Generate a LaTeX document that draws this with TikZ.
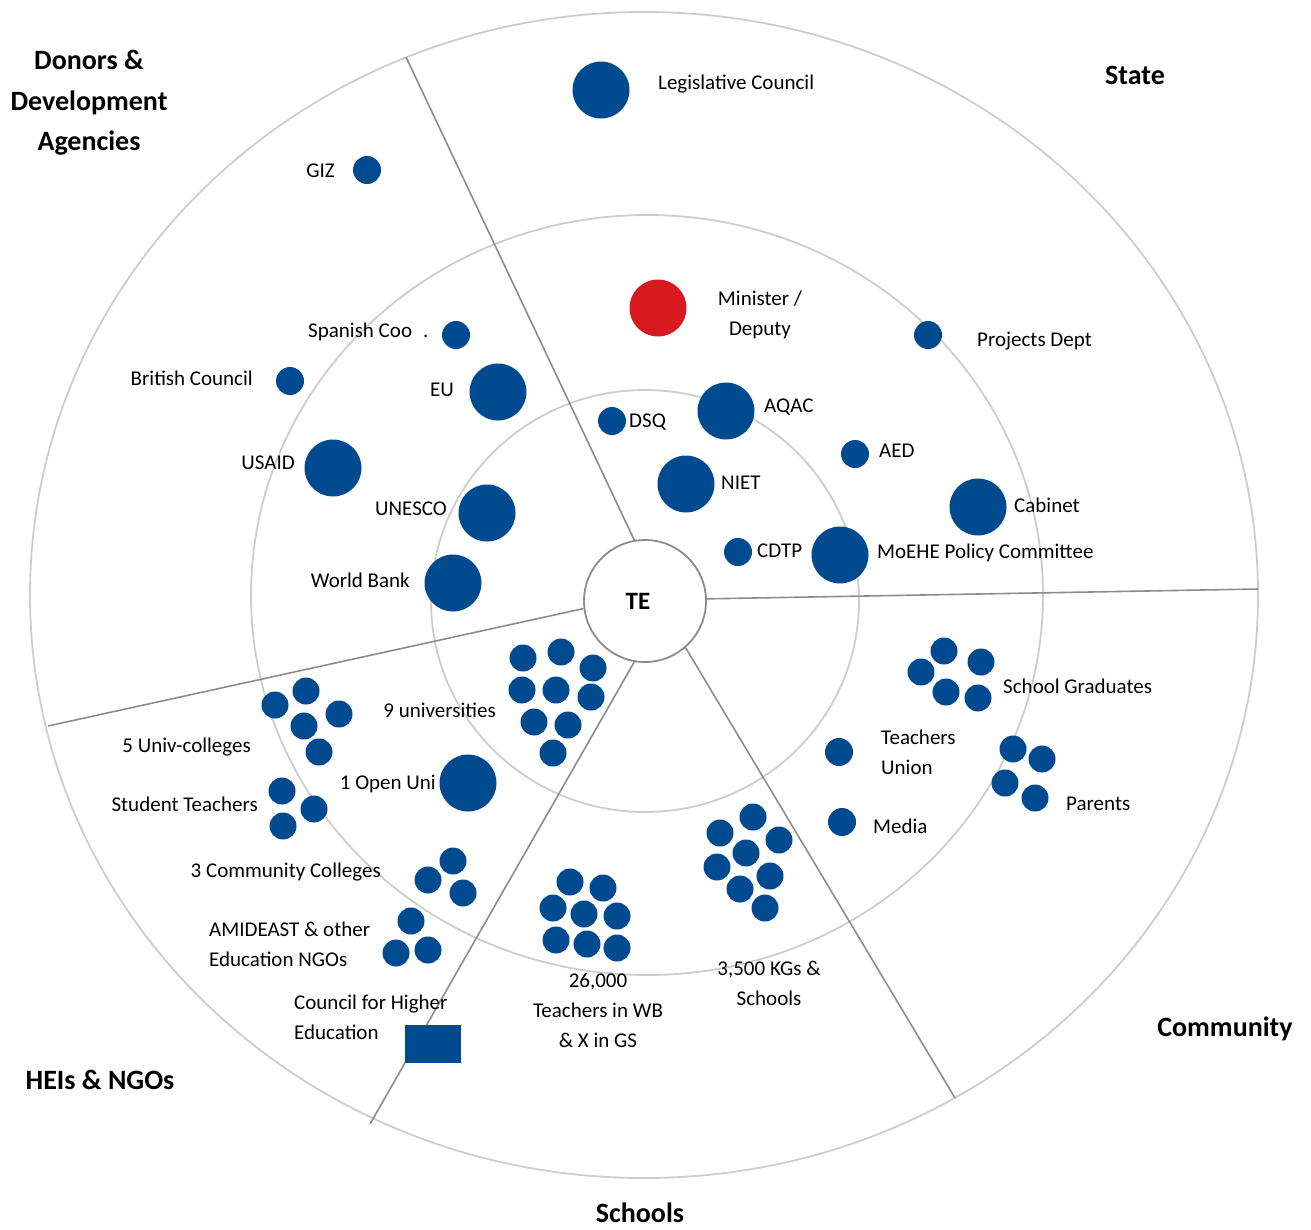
\documentclass[tikz,border=0pt]{standalone}
\usepackage{fontspec}
\setmainfont{Carlito}
\definecolor{actorblue}{RGB}{0,74,143}
\definecolor{ministerred}{RGB}{215,25,32}
\definecolor{ringgray}{RGB}{205,205,205}
\definecolor{divgray}{RGB}{140,140,140}
\tikzstyle{actor}=[circle, fill=actorblue, inner sep=0pt, minimum size=28pt]
\tikzstyle{bigactor}=[actor, minimum size=57pt]
\tikzstyle{crowd}=[actor, minimum size=27pt]
\tikzstyle{actorlabel}=[inner sep=0pt, text height=16pt, text depth=2pt, font=\fontsize{21}{30}\selectfont]
\tikzstyle{longlabel}=[inner sep=0pt, font=\fontsize{21}{30}\selectfont]
\tikzstyle{sector}=[inner sep=0pt, align=center, font=\fontsize{28}{40.5}\selectfont\bfseries]
\tikzstyle{ring}=[draw=ringgray, line width=1.8pt]
\tikzstyle{divider}=[draw=divgray, line width=1.6pt]
\newcommand{\actor}{\node[actor]}
\newcommand{\bigactor}{\node[bigactor]}

\begin{document}
\begin{tikzpicture}[x=1pt, y=-1pt]
	\useasboundingbox (0,0) rectangle (1311,1229);
	% rings of influence
	\draw[ring] (645,601) ellipse [x radius=214pt, y radius=211pt];
	\draw[ring] (647,595) ellipse [x radius=396pt, y radius=380pt];
	\draw[ring] (644,595) ellipse [x radius=614pt, y radius=583pt];
	\node[circle, draw=divgray, line width=1.8pt, fill=white, minimum size=122pt] (te) at (645,601) {};
	\node[inner sep=0pt, font=\fontsize{25}{30}\selectfont\bfseries] (te-t) at (638,601) {TE};
	% sector borders
	\coordinate (donstate) at (406,57);
	\coordinate (statecom) at (1258,589);
	\coordinate (comschool) at (955,1098);
	\coordinate (schoolhei) at (370,1124);
	\coordinate (heidon) at (48,726);
	\path
	(te.100.6) edge[divider] (donstate)
	(te.2.8) edge[divider] (statecom)
	(te.-49.7) edge[divider] (comschool)
	(te.-100) edge[divider] (schoolhei)
	(te.187.4) edge[divider] (heidon)
	;
	% sectors
	\node[sector] (donors) at (89,103) {Donors \&\\Development\\Agencies};
	\node[sector] (state) at (1135,75) {State};
	\node[sector] (community) at (1225,1029) {Community};
	\node[sector] (schools) at (640,1213) {Schools};
	\node[sector] (heis) at (100,1080) {HEIs \& NGOs};
	% donors
	\actor (giz) at (367,170) {};
	\actor (spanish) at (456,335) {};
	\actor (british) at (290,381) {};
	\bigactor (eu) at (498,392) {};
	\bigactor (usaid) at (333,468) {};
	\bigactor (unesco) at (487,513) {};
	\bigactor (worldbank) at (453,583) {};
	\node[actorlabel, anchor=east] (giz-t) at (335,170) {GIZ};
	\node[actorlabel, anchor=west] (spanish-t) at (308,330) {Spanish Coo\hspace{11pt}.};
	\node[actorlabel, anchor=east] (british-t) at (253,378) {British Council};
	\node[actorlabel, anchor=east] (eu-t) at (454,389) {EU};
	\node[actorlabel, anchor=east] (usaid-t) at (295,462) {USAID};
	\node[actorlabel, anchor=east] (unesco-t) at (447,508) {UNESCO};
	\node[actorlabel, anchor=east] (worldbank-t) at (410,580) {World Bank};
	% state
	\bigactor (legco) at (601,90) {};
	\node[bigactor, fill=ministerred] (minister) at (658,308) {};
	\actor (projects) at (928,335) {};
	\actor (dsq) at (612,421) {};
	\bigactor (aqac) at (726,411) {};
	\actor (aed) at (855,454) {};
	\bigactor (niet) at (686,484) {};
	\bigactor (cabinet) at (978,507) {};
	\actor (cdtp) at (738,552) {};
	\bigactor (moehe) at (840,555) {};
	\node[actorlabel, anchor=west] (legco-t) at (658,82) {Legislative Council};
	\node[longlabel, align=center] (minister-t) at (760,315) {Minister /\\Deputy};
	\node[actorlabel, anchor=west] (projects-t) at (977,339) {Projects Dept};
	\node[actorlabel, anchor=west] (dsq-t) at (629,420) {DSQ};
	\node[actorlabel, anchor=west] (aqac-t) at (764,405) {AQAC};
	\node[actorlabel, anchor=west] (aed-t) at (879,450) {AED};
	\node[actorlabel, anchor=west] (niet-t) at (721,482) {NIET};
	\node[actorlabel, anchor=west] (cabinet-t) at (1014,505) {Cabinet};
	\node[actorlabel, anchor=west] (cdtp-t) at (757,550) {CDTP};
	\node[actorlabel, anchor=west] (moehe-t) at (877,551) {MoEHE Policy Committee};
	% community
	\foreach \p [count=\i] in {(944,651),(921,672),(981,662),(946,692),(978,698)}
		\node[crowd] (grad\i) at \p {};
	\foreach \p [count=\i] in {(1013,749),(1042,759),(1005,783),(1035,798)}
		\node[crowd] (parent\i) at \p {};
	\actor (union) at (839,752) {};
	\actor (media) at (842,822) {};
	\node[actorlabel, anchor=west] (grad-t) at (1003,686) {School Graduates};
	\node[longlabel, anchor=west, align=left] (union-t) at (881,752) {Teachers\\Union};
	\node[actorlabel, anchor=west] (media-t) at (873,826) {Media};
	\node[actorlabel, anchor=west] (parent-t) at (1066,803) {Parents};
	% schools
	\foreach \p [count=\i] in {(570,882),(603,888),(553,908),(584,914),(617,916),(556,940),(587,944),(617,948)}
		\node[crowd] (teacher\i) at \p {};
	\foreach \p [count=\i] in {(753,817),(720,833),(779,840),(746,853),(717,867),(770,876),(740,889),(765,908)}
		\node[crowd] (school\i) at \p {};
	\node[longlabel, align=center] (teacher-t) at (598,1010) {26,000\\Teachers in WB\\\& X in GS};
	\node[longlabel, align=center] (school-t) at (769,983) {3,500 KGs \&\\Schools};
	% HEIs and NGOs
	\foreach \p [count=\i] in {(523,658),(561,652),(593,668),(522,690),(556,690),(591,697),(534,722),(568,725),(553,753)}
		\node[crowd] (uni\i) at \p {};
	\foreach \p [count=\i] in {(275,705),(306,691),(339,714),(304,726),(319,752)}
		\node[crowd] (ucol\i) at \p {};
	\foreach \p [count=\i] in {(282,791),(314,809),(283,826)}
		\node[crowd] (student\i) at \p {};
	\foreach \p [count=\i] in {(453,861),(428,880),(463,893)}
		\node[crowd] (ccol\i) at \p {};
	\foreach \p [count=\i] in {(411,921),(396,953),(428,950)}
		\node[crowd] (ngo\i) at \p {};
	\bigactor (openuni) at (468,783) {};
	\node[rectangle, fill=actorblue, minimum width=56pt, minimum height=38pt] (che) at (433,1044) {};
	\node[actorlabel, anchor=east] (uni-t) at (496,710) {9 universities};
	\node[actorlabel, anchor=east] (openuni-t) at (436,782) {1 Open Uni};
	\node[actorlabel, anchor=east] (ucol-t) at (251,745) {5 Univ-colleges};
	\node[actorlabel, anchor=east] (student-t) at (258,804) {Student Teachers};
	\node[actorlabel, anchor=east] (ccol-t) at (381,870) {3 Community Colleges};
	\node[longlabel, anchor=west, align=left] (ngo-t) at (209,944) {AMIDEAST \& other\\Education NGOs};
	\node[longlabel, anchor=west, align=left] (che-t) at (294,1017) {Council for Higher\\Education};
\end{tikzpicture}
\end{document}
